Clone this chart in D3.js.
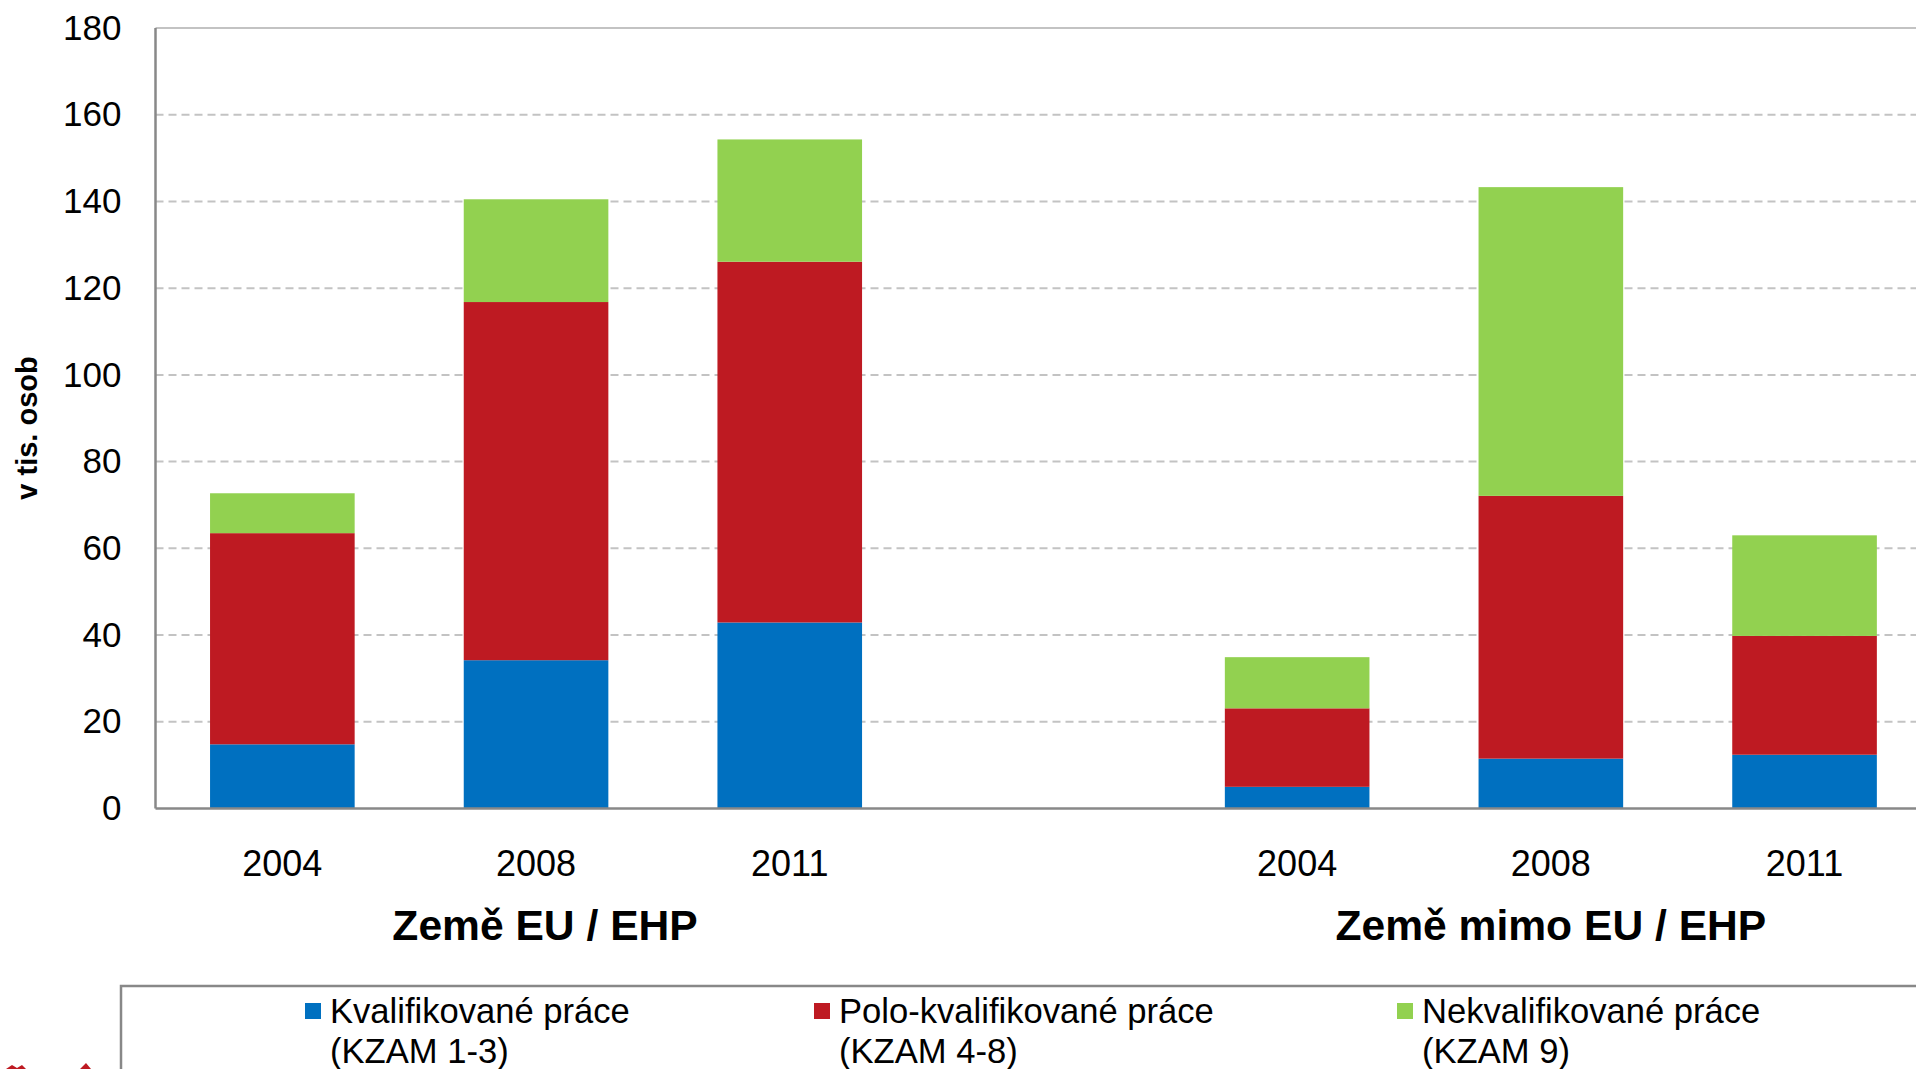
<!DOCTYPE html>
<html>
<head>
<meta charset="utf-8">
<script src="https://cdn.jsdelivr.net/npm/d3@7"></script>
<style>
  body { margin: 0; background: #fff; }
  svg { display: block; font-family: "Liberation Sans", Arial, sans-serif; }
</style>
</head>
<body>
<script>
// Data
var years = ["2004", "2008", "2011"];
var groups = ["Země EU / EHP", "Země mimo EU / EHP"];
var seriesNames = ["Kvalifikované práce", "Polo-kvalifikované práce", "Nekvalifikované práce"];
var seriesCodes = ["(KZAM 1-3)", "(KZAM 4-8)", "(KZAM 9)"];
var seriesColors = ["#0070c0", "#be1a22", "#92d150"];
var euValues = [[14.8, 34.2, 42.9], [48.7, 82.6, 83.2], [9.2, 23.7, 28.2]];
var nonEuValues = [[5.0, 11.5, 12.4], [18.1, 60.6, 27.4], [11.8, 71.2, 23.2]];
var yTicks = [0, 20, 40, 60, 80, 100, 120, 140, 160, 180];

// Size
var width = 1916;
var height = 1069;
var plotLeft = 155.5, plotTop = 28, plotBottom = 808.5;
var slotCount = 7;
var bandStep = 253.7;
var plotRight = plotLeft + slotCount * bandStep;

// Rows: one per bar, empty slot between the two groups
var rows = [];
years.forEach(function(yr, i) {
    rows.push({ key: "eu" + yr, year: yr, group: 0, vals: euValues.map(function(s) { return s[i]; }) });
});
rows.push({ key: "gap", year: "", group: -1, vals: [0, 0, 0] });
years.forEach(function(yr, i) {
    rows.push({ key: "non" + yr, year: yr, group: 1, vals: nonEuValues.map(function(s) { return s[i]; }) });
});

var x = d3.scaleBand()
    .domain(rows.map(d => d.key))
    .range([plotLeft, plotRight])
    .paddingInner(0.43)
    .paddingOuter(0.215);

var y = d3.scaleLinear()
    .domain([0, 180])
    .range([plotBottom, plotTop]);

var svg = d3.select("body").append("svg")
    .attr("width", width)
    .attr("height", height);

// Gridlines
svg.append("g")
    .selectAll("line")
    .data(yTicks.filter(t => t > 0))
    .enter()
    .append("line")
    .attr("x1", plotLeft)
    .attr("x2", plotRight)
    .attr("y1", d => y(d))
    .attr("y2", d => y(d))
    .attr("stroke", "#c3c3c3")
    .attr("stroke-width", 2)
    .attr("stroke-dasharray", d => d === 180 ? null : "8,5");

// Stacked bars
var table = rows.filter(d => d.group >= 0).map(function(d) {
    return { key: d.key, s0: d.vals[0], s1: d.vals[1], s2: d.vals[2] };
});
var stack = d3.stack().keys(["s0", "s1", "s2"])(table);

svg.append("g")
    .selectAll("g")
    .data(stack)
    .enter()
    .append("g")
    .attr("fill", (d, i) => seriesColors[i])
    .selectAll("rect")
    .data(d => d)
    .enter()
    .append("rect")
    .attr("x", d => x(d.data.key))
    .attr("width", x.bandwidth())
    .attr("y", d => y(d[1]))
    .attr("height", d => y(d[0]) - y(d[1]));

// Axis lines
svg.append("line")
    .attr("x1", plotLeft).attr("x2", plotLeft)
    .attr("y1", plotTop).attr("y2", plotBottom)
    .attr("stroke", "#888").attr("stroke-width", 2.5);
svg.append("line")
    .attr("x1", plotLeft).attr("x2", plotRight)
    .attr("y1", plotBottom).attr("y2", plotBottom)
    .attr("stroke", "#888").attr("stroke-width", 2.5);

// Y tick labels
var yAxis = d3.axisLeft(y).tickValues(yTicks).tickSize(0).tickPadding(34);
var ya = svg.append("g")
    .attr("transform", "translate(" + plotLeft + ",0)")
    .call(yAxis);
ya.select(".domain").remove();
ya.selectAll("text")
    .attr("font-size", 35)
    .attr("font-family", "Liberation Sans, Arial, sans-serif")
    .attr("fill", "#000");

// Y axis title
svg.append("text")
    .attr("transform", "translate(37,428) rotate(-90)")
    .attr("text-anchor", "middle")
    .attr("font-size", 29)
    .attr("font-weight", "bold")
    .text("v tis. osob");

// Year labels
svg.append("g")
    .selectAll("text")
    .data(rows.filter(d => d.group >= 0))
    .enter()
    .append("text")
    .attr("x", d => x(d.key) + x.bandwidth() / 2)
    .attr("y", 876)
    .attr("text-anchor", "middle")
    .attr("font-size", 36)
    .text(d => d.year);

// Group labels
svg.append("g")
    .selectAll("text")
    .data(groups)
    .enter()
    .append("text")
    .attr("x", (d, i) => x(rows[i * 4 + 1].key) + x.bandwidth() / 2 + (i === 0 ? 9 : 0))
    .attr("y", 940)
    .attr("text-anchor", "middle")
    .attr("font-size", 42.6)
    .attr("font-weight", "bold")
    .text(d => d);

// Legend box
svg.append("rect")
    .attr("x", 121)
    .attr("y", 986)
    .attr("width", 1900)
    .attr("height", 200)
    .attr("fill", "none")
    .attr("stroke", "#888")
    .attr("stroke-width", 2.5);

var legendX = [305, 814, 1397];
var legend = svg.append("g")
    .selectAll("g")
    .data(seriesNames)
    .enter()
    .append("g")
    .attr("transform", (d, i) => "translate(" + legendX[i] + ",0)");

legend.append("rect")
    .attr("x", 0)
    .attr("y", 1003)
    .attr("width", 16)
    .attr("height", 16)
    .attr("fill", (d, i) => seriesColors[i]);

legend.append("text")
    .attr("x", 25)
    .attr("y", 1023)
    .attr("font-size", 34.6)
    .text(d => d);

legend.append("text")
    .attr("x", 25)
    .attr("y", 1063)
    .attr("font-size", 34.6)
    .text((d, i) => seriesCodes[i]);

// Logo fragment in the corner
svg.append("path")
    .attr("d", "M6,1069 L12,1065 L17,1068 L22,1065 L26,1069 Z M80,1069 L86,1063 L91,1069 Z")
    .attr("fill", "#be1a22");
</script>
</body>
</html>
